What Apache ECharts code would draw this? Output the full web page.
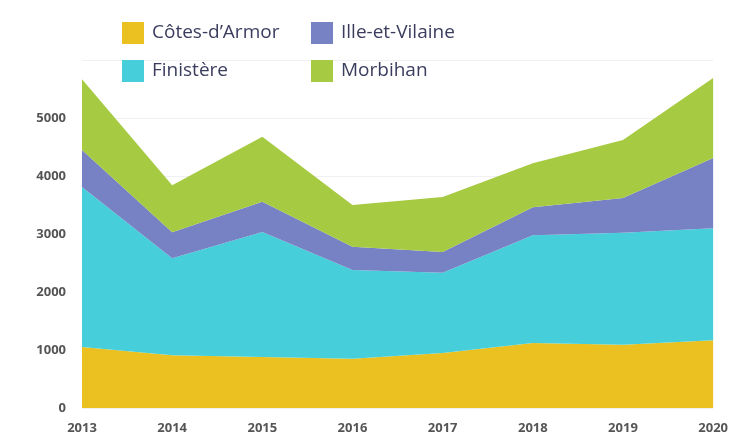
<!DOCTYPE html>
<html>
<head>
<meta charset="utf-8">
<script src="https://cdn.jsdelivr.net/npm/echarts@6/dist/echarts.min.js"></script>
<style>
  html, body { margin: 0; padding: 0; background: #fff; }
  #chart { width: 731px; height: 438px; }
</style>
</head>
<body>
<div id="chart"></div>
<script>
// années
const years = ['2013', '2014', '2015', '2016', '2017', '2018', '2019', '2020'];

// valeurs par département
const cotesArmor   = [1050, 910, 880, 850, 950, 1120, 1090, 1170];
const finistere    = [2760, 1670, 2155, 1530, 1380, 1860, 1930, 1930];
const illeVilaine  = [640, 450, 520, 400, 360, 480, 600, 1210];
const morbihan     = [1220, 810, 1120, 720, 950, 760, 1000, 1380];

const names  = ['Côtes-d\u2019Armor', 'Finistère', 'Ille-et-Vilaine', 'Morbihan'];
const colors = ['#EBC122', '#46CFDA', '#7682C3', '#A6CA41'];

function areaSerie(i, data) {
  return {
    name: names[i],
    type: 'line',
    stack: 'total',
    data: data,
    symbol: 'none',
    lineStyle: { width: 0 },
    areaStyle: { color: colors[i], opacity: 1 },
    itemStyle: { color: colors[i] },
    animation: false
  };
}

const legendText = { color: '#3b3d5e', fontSize: 19, fontFamily: 'Open Sans', padding: [0, 0, 0, 3] };

let chart = echarts.init(document.getElementById('chart'));
chart.setOption({
  backgroundColor: '#fff',
  legend: [
    {
      orient: 'vertical', left: 117, top: 17,
      itemWidth: 22, itemHeight: 22, itemGap: 16,
      icon: 'rect',
      data: [names[0], names[1]],
      textStyle: legendText
    },
    {
      orient: 'vertical', left: 306, top: 17,
      itemWidth: 22, itemHeight: 22, itemGap: 16,
      icon: 'rect',
      data: [names[2], names[3]],
      textStyle: legendText
    }
  ],
  grid: { left: 82, right: 13, top: 60, bottom: 30 },
  xAxis: {
    type: 'category',
    boundaryGap: false,
    data: years,
    axisLine: { show: false },
    axisTick: { show: false },
    axisLabel: { color: '#555', fontSize: 13, fontWeight: 'bold', fontFamily: 'Open Sans', margin: 14 }
  },
  yAxis: {
    type: 'value',
    min: 0,
    max: 6000,
    interval: 1000,
    axisLine: { show: false },
    axisTick: { show: false },
    splitLine: { lineStyle: { color: '#f0f0f2', width: 1 } },
    axisLabel: {
      color: '#555', fontSize: 13, fontWeight: 'bold', fontFamily: 'Open Sans', margin: 16,
      showMaxLabel: false,
      formatter: function (v) { return String(v); }
    }
  },
  series: [
    areaSerie(0, cotesArmor),
    areaSerie(1, finistere),
    areaSerie(2, illeVilaine),
    areaSerie(3, morbihan)
  ]
});
</script>
</body>
</html>
